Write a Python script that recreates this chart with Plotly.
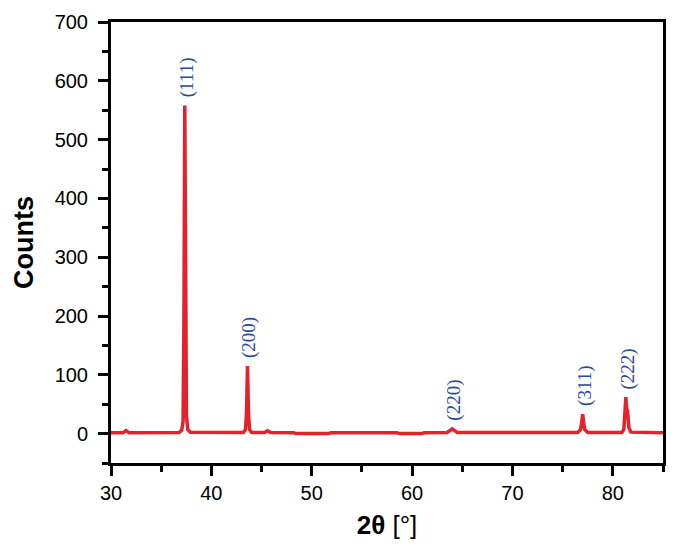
import plotly.graph_objects as go

# Diffraction pattern (2theta in degrees, counts)
two_theta = [30.0, 31.2, 31.5, 31.8, 36.8, 37.05, 37.18, 37.27, 37.35, 37.43, 37.52, 37.65, 37.9,
             43.2, 43.4, 43.5, 43.6, 43.7, 43.8, 44.0, 45.3, 45.6, 45.9, 48.2, 48.4, 51.7, 51.9,
             58.5, 58.7, 61.0, 61.2, 63.5, 64.0, 64.5, 76.5, 76.8, 76.9, 77.0, 77.1, 77.2, 77.5,
             80.9, 81.1, 81.2, 81.3, 81.38, 81.47, 81.6, 81.8, 85.0]
counts = [1.5, 1.5, 5, 1.5, 2, 6, 20, 200, 558, 300, 30, 7, 2.5,
          2, 7, 35, 115, 35, 7, 2, 2, 5, 2, 1.5, 0, 0, 1.5,
          1.5, 0, 0, 1.5, 2, 8, 2, 2, 7, 18, 33, 18, 7, 2,
          2, 7, 28, 62, 42, 38, 10, 2.5, 1.5]

peak_pos = [37.35, 43.6, 64.0, 77.0, 81.3]
peak_height = [558, 115, 8, 33, 62]
peak_labels = ["(111)", "(200)", "(220)", "(311)", "(222)"]

x_ticks = [30, 40, 50, 60, 70, 80]
y_ticks = [0, 100, 200, 300, 400, 500, 600, 700]

fig = go.Figure()
fig.add_trace(go.Scatter(x=two_theta, y=counts, mode="lines",
                         line=dict(color="#E3222B", width=3.5), showlegend=False))

for px, ph, lab in zip(peak_pos, peak_height, peak_labels):
    fig.add_annotation(x=px, y=ph, text=lab, showarrow=False, textangle=-90,
                       yanchor="bottom", xanchor="center", yshift=6, xshift=2,
                       font=dict(family="Liberation Serif", size=19, color="#2B4A9C"))

axis_common = dict(showgrid=False, zeroline=False, showline=True, linecolor="black",
                   linewidth=3, mirror=True, ticks="outside", ticklen=10, tickwidth=2.5,
                   tickcolor="black", automargin=False,
                   tickfont=dict(family="Liberation Sans", size=20, color="black"))

fig.update_xaxes(range=[30, 85], tickvals=x_ticks,
                 minor=dict(dtick=5, ticks="outside", ticklen=6, tickwidth=2.5, tickcolor="black"),
                 title=dict(text="<b>2θ</b> [°]", font=dict(family="Liberation Sans", size=26, color="black"),
                            standoff=13),
                 **axis_common)
fig.update_yaxes(range=[-50, 700], tickvals=y_ticks, ticklabelstandoff=6,
                 minor=dict(dtick=50, ticks="outside", ticklen=6, tickwidth=2.5, tickcolor="black"),
                 title=dict(text="<b>Counts</b>", font=dict(family="Liberation Sans", size=27, color="black"),
                            standoff=14),
                 **axis_common)

# page body adds an 8px offset, so the figure is sized to fit the window
fig.update_layout(width=669, height=543, margin=dict(l=103, r=14, t=14, b=88),
                  plot_bgcolor="white", paper_bgcolor="white")

fig.write_html("out.html")
